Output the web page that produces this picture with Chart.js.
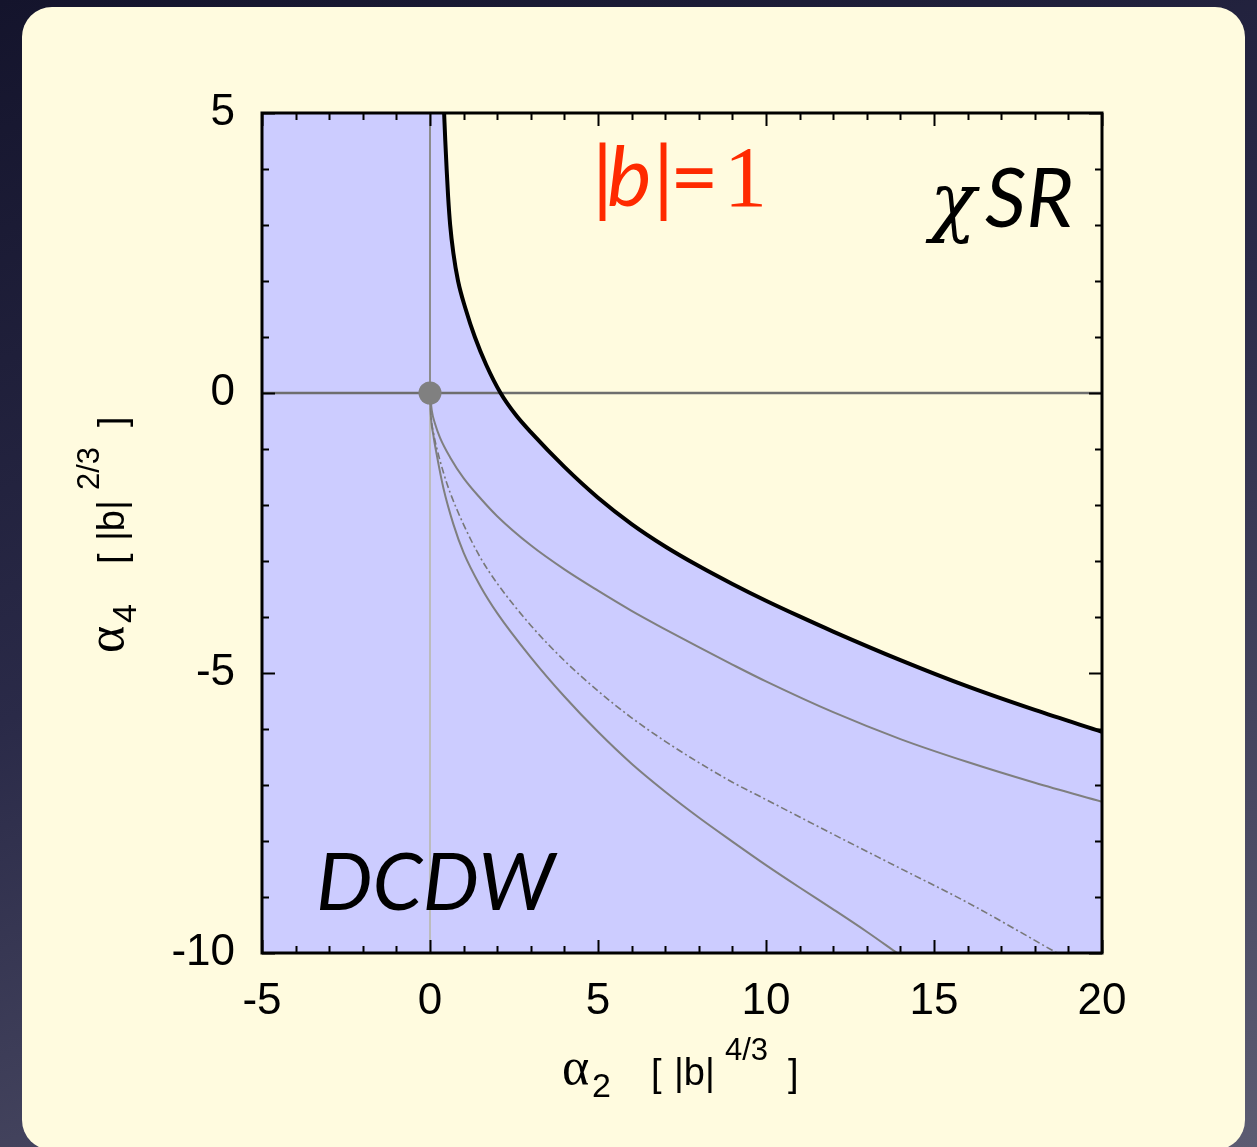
<!DOCTYPE html>
<html>
<head>
<meta charset="utf-8">
<script src="https://cdn.jsdelivr.net/npm/chart.js@4"></script>
<style>
  html, body { margin: 0; padding: 0; }
  body {
    width: 1257px; height: 1147px; overflow: hidden; position: relative;
    background: linear-gradient(160deg, #14142c 0%, #2a2a48 45%, #5c5c72 100%);
  }
  #panel {
    position: absolute; left: 22px; top: 7px; width: 1223px; height: 1143px;
    background: #fffbdf; border-radius: 30px;
  }
  #chart { position: absolute; left: 0; top: 0; }
</style>
</head>
<body>
<div id="panel"></div>
<canvas id="chart" width="1257" height="1147"></canvas>
<script>
// phase boundary (alpha2, alpha4), thick black curve
var boundaryA2 = [0.42, 0.455, 0.495, 0.54, 0.60, 0.695, 0.835, 1.06, 1.335, 1.675, 2.10, 2.55, 3.0, 4.0, 5.0, 6.0, 7.0, 8.0, 9.0, 10.0, 11.0, 12.0, 14.0, 16.0, 18.0, 20.0];
var boundaryA4 = [5.0, 4.5, 4.0, 3.5, 3.0, 2.5, 2.0, 1.5, 1.0, 0.5, 0.0, -0.39, -0.70, -1.32, -1.87, -2.34, -2.74, -3.09, -3.41, -3.71, -3.99, -4.26, -4.77, -5.24, -5.66, -6.05];

// thin grey curves starting at the origin
var upperA2 = [0, 0.05, 0.15, 0.3, 0.6, 1.0, 1.5, 2.0, 3.0, 4.0, 5.0, 6.0, 7.0, 8.0, 9.0, 10.0, 12.0, 14.0, 16.0, 18.0, 20.0];
var upperA4 = [0, -0.30, -0.55, -0.80, -1.15, -1.52, -1.88, -2.20, -2.72, -3.15, -3.53, -3.89, -4.22, -4.54, -4.85, -5.15, -5.70, -6.18, -6.59, -6.96, -7.30];

var dashA2 = [0, 0.03, 0.1, 0.2, 0.4, 0.6, 1.0, 1.5, 2.0, 3.0, 4.0, 5.0, 6.0, 7.0, 8.0, 9.0, 10.0, 12.0, 14.0, 16.0, 18.66];
var dashA4 = [0, -0.40, -0.70, -0.98, -1.42, -1.78, -2.35, -2.94, -3.40, -4.15, -4.78, -5.32, -5.80, -6.22, -6.60, -6.95, -7.26, -7.88, -8.49, -9.10, -10.0];

var lowerA2 = [0, 0.02, 0.1, 0.2, 0.4, 0.7, 1.0, 1.5, 2.0, 3.0, 4.0, 5.0, 6.0, 7.0, 8.0, 9.0, 10.0, 11.0, 12.0, 13.0, 13.9];
var lowerA4 = [0, -0.35, -0.75, -1.10, -1.70, -2.35, -2.85, -3.45, -3.93, -4.72, -5.42, -6.05, -6.62, -7.12, -7.58, -8.01, -8.43, -8.83, -9.22, -9.62, -10.0];

// axes
var xRange = [-5, 20];
var yRange = [-10, 5];
var xMajor = [-5, 0, 5, 10, 15, 20];
var yMajor = [-10, -5, 0, 5];

var CREAM = '#fffbdf';
var LILAC = '#ccccff';

function pts(xs, ys) {
	return xs.map(function (x, i) { return { x: x, y: ys[i] }; });
}

function line(label, data, color, width, order, extra) {
	var ds = {
		label: label, data: data, showLine: true, pointRadius: 0,
		borderColor: color, borderWidth: width, fill: false, order: order,
		cubicInterpolationMode: 'monotone'
	};
	for (var k in extra) ds[k] = extra[k];
	return ds;
}

var datasets = [
	{ label: 'origin', data: [{ x: 0, y: 0 }], pointRadius: 11.5, pointBackgroundColor: '#808080',
	  pointBorderWidth: 0, showLine: false, order: 0 },
	line('boundary', pts(boundaryA2, boundaryA4), '#000', 4, 1, { fill: 'end', backgroundColor: CREAM }),
	line('upper', pts(upperA2, upperA4), '#7f7f7f', 2, 2),
	line('dashdot', pts(dashA2, dashA4), '#787878', 1.6, 3, { borderDash: [7, 3, 2, 3] }),
	line('lower', pts(lowerA2, lowerA4), '#7f7f7f', 2, 4),
	line('a4axis', pts([xRange[0], xRange[1]], [0, 0]), '#6e6e6e', 2.5, 5, { cubicInterpolationMode: 'default' }),
	line('a2axisUp', pts([0, 0], [0, yRange[1]]), '#8c8c8c', 2, 6, { cubicInterpolationMode: 'default' }),
	line('a2axisDown', pts([0, 0], [yRange[0], 0]), '#bcbcbc', 2, 7, { cubicInterpolationMode: 'default' })
];

// one axis title: alpha with subscript, then [ |b|^p ]
function drawTitle(ctx, sub, power) {
	ctx.fillStyle = '#000';
	ctx.textBaseline = 'alphabetic';
	ctx.textAlign = 'left';
	ctx.font = '52px "Liberation Serif"';
	ctx.fillText('α', 0, -1);
	ctx.font = '34px "Liberation Sans"';
	ctx.fillText(sub, 30, 12);
	ctx.font = '38px "Liberation Sans"';
	ctx.fillText('[', 89, 1);
	ctx.fillText('|b|', 112, 0);
	ctx.font = '31px "Liberation Sans"';
	ctx.fillText(power, 163, -25);
	ctx.font = '38px "Liberation Sans"';
	ctx.fillText(']', 226, 1);
}

var decorations = {
	id: 'decorations',
	beforeDraw: function (chart) {
		var a = chart.chartArea, ctx = chart.ctx;
		ctx.save();
		ctx.fillStyle = LILAC;
		ctx.fillRect(a.left, a.top, a.right - a.left, a.bottom - a.top);
		ctx.restore();
	},
	afterDatasetsDraw: function (chart) {
		var a = chart.chartArea, ctx = chart.ctx;
		var sx = chart.scales.x, sy = chart.scales.y;
		ctx.save();
		ctx.strokeStyle = '#000';
		ctx.lineWidth = 2;
		ctx.beginPath();
		sx.ticks.forEach(function (t) {
			var p = Math.round(sx.getPixelForValue(t.value)) + 0.5;
			var len = xMajor.indexOf(t.value) >= 0 ? 13 : 7;
			ctx.moveTo(p, a.bottom); ctx.lineTo(p, a.bottom - len);
			ctx.moveTo(p, a.top); ctx.lineTo(p, a.top + len);
		});
		sy.ticks.forEach(function (t) {
			var p = Math.round(sy.getPixelForValue(t.value)) + 0.5;
			var len = yMajor.indexOf(t.value) >= 0 ? 13 : 7;
			ctx.moveTo(a.left, p); ctx.lineTo(a.left + len, p);
			ctx.moveTo(a.right, p); ctx.lineTo(a.right - len, p);
		});
		ctx.stroke();
		ctx.lineWidth = 3;
		ctx.strokeRect(a.left, a.top, a.right - a.left, a.bottom - a.top);
		ctx.restore();
	},
	afterDraw: function (chart) {
		var ctx = chart.ctx;
		ctx.save();
		// x title
		ctx.save();
		ctx.translate(562, 1085);
		drawTitle(ctx, '2', '4/3');
		ctx.restore();
		// y title, rotated
		ctx.save();
		ctx.translate(124, 653);
		ctx.rotate(-Math.PI / 2);
		drawTitle(ctx, '4', '2/3');
		ctx.restore();

		ctx.textBaseline = 'alphabetic';
		ctx.textAlign = 'left';
		// |b|=1 in red
		ctx.fillStyle = '#ff2a00';
		ctx.font = '84px Lato';
		ctx.fillText('|', 592, 206);
		ctx.font = 'italic 84px Lato';
		ctx.fillText('b', 607, 206);
		ctx.font = '84px Lato';
		ctx.fillText('|', 653, 206);
		ctx.fillText('=', 670, 206);
		ctx.font = '86px "Liberation Serif"';
		ctx.fillText('1', 724, 206);

		// region names
		ctx.fillStyle = '#000';
		ctx.font = 'italic 76px "DejaVu Serif"';
		ctx.fillText('χ', 930, 227);
		ctx.font = 'italic 81px Lato';
		ctx.fillText('SR', 985, 227);
		ctx.font = 'italic 80px Lato';
		ctx.fillText('DCDW', 316, 910);
		ctx.restore();
	}
};

var tickFont = { family: '"Liberation Sans", Arial, sans-serif', size: 44 };

new Chart(document.getElementById('chart'), {
	type: 'scatter',
	data: { datasets: datasets },
	options: {
		responsive: false,
		animation: false,
		layout: { padding: { top: 113, right: 155, left: 0, bottom: 0 } },
		plugins: {
			legend: { display: false },
			tooltip: { enabled: false },
			filler: { drawTime: 'beforeDatasetsDraw' }
		},
		scales: {
			x: {
				type: 'linear', min: xRange[0], max: xRange[1],
				grid: { display: false, drawTicks: false }, border: { display: false },
				ticks: {
					stepSize: 1, autoSkip: false, maxRotation: 0, padding: 22,
					color: '#000', font: tickFont,
					callback: function (v) { return xMajor.indexOf(v) >= 0 ? String(v) : ''; }
				},
				afterFit: function (s) { s.height = 194; }
			},
			y: {
				type: 'linear', min: yRange[0], max: yRange[1],
				grid: { display: false, drawTicks: false }, border: { display: false },
				ticks: {
					stepSize: 1, autoSkip: false, padding: 27,
					color: '#000', font: tickFont,
					callback: function (v) { return yMajor.indexOf(v) >= 0 ? String(v) : ''; }
				},
				afterFit: function (s) { s.width = 262; }
			}
		}
	},
	plugins: [decorations]
});
</script>
</body>
</html>
